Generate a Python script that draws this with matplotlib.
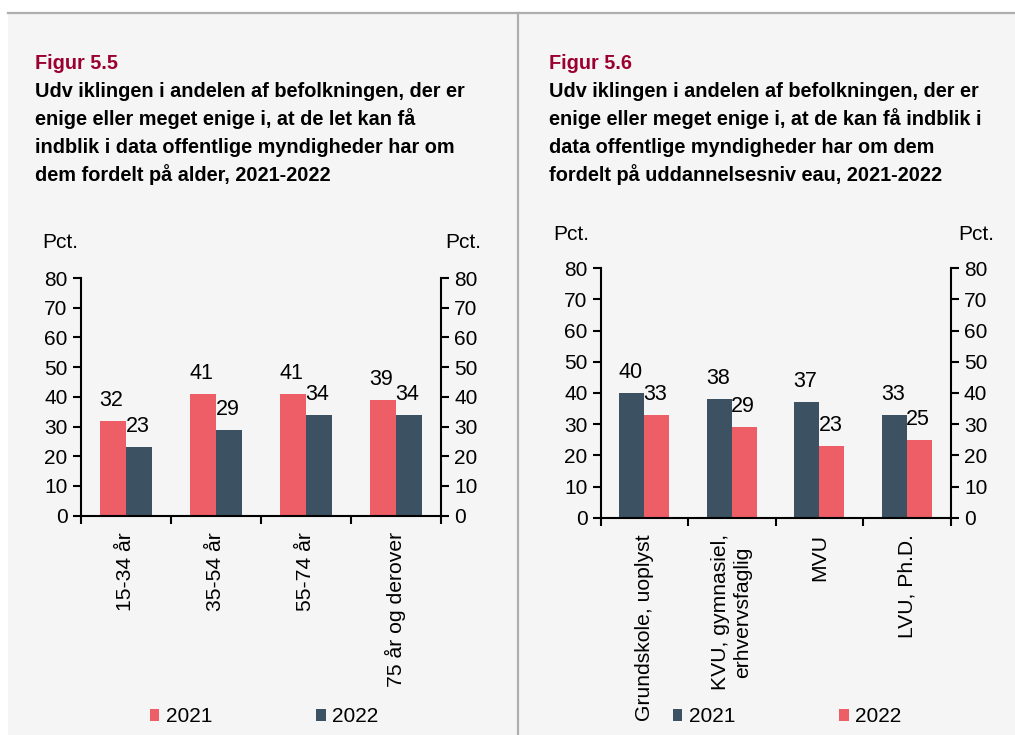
import numpy as np
import matplotlib.pyplot as plt
from matplotlib.patches import Rectangle
from matplotlib.lines import Line2D

plt.rcParams['font.family'] = ['Liberation Sans', 'DejaVu Sans']

# Figur 5.5 - alder
age_groups = ["15-34 år", "35-54 år", "55-74 år", "75 år og derover"]
age_2021 = [32, 41, 41, 39]
age_2022 = [23, 29, 34, 34]

# Figur 5.6 - uddannelsesniveau
edu_groups = ["Grundskole, uoplyst", "KVU, gymnasiel,\nerhvervsfaglig", "MVU", "LVU, Ph.D."]
edu_2021 = [40, 38, 37, 33]
edu_2022 = [33, 29, 23, 25]

yticks = [0, 10, 20, 30, 40, 50, 60, 70, 80]

title_55 = ["Udv iklingen i andelen af befolkningen, der er",
            "enige eller meget enige i, at de let kan få",
            "indblik i data offentlige myndigheder har om",
            "dem fordelt på alder, 2021-2022"]
title_56 = ["Udv iklingen i andelen af befolkningen, der er",
            "enige eller meget enige i, at de kan få indblik i",
            "data offentlige myndigheder har om dem",
            "fordelt på uddannelsesniv eau, 2021-2022"]

RED = "#ee5e67"
DARK = "#3c5263"
BG = "#f5f5f5"
FIGRED = "#9b0030"
LINEGRAY = "#b0adae"

W, H = 1015, 735
fig = plt.figure(figsize=(W / 100, H / 100), dpi=100, facecolor="white")

# panel background and frame lines
fig.patches.append(Rectangle((8 / W, 0), 1 - 8 / W, 1 - 12 / H, transform=fig.transFigure,
                             facecolor=BG, edgecolor="none", zorder=-5))
fig.lines.append(Line2D([8 / W, 1], [1 - 12.5 / H, 1 - 12.5 / H], transform=fig.transFigure,
                        color=LINEGRAY, lw=1.6))
fig.lines.append(Line2D([517.5 / W, 517.5 / W], [0, 1 - 12.5 / H], transform=fig.transFigure,
                        color=LINEGRAY, lw=1.6))


def px_axes(x0, x1, ytop, ybot):
    return fig.add_axes([x0 / W, 1 - ybot / H, (x1 - x0) / W, (ybot - ytop) / H])


def draw_panel(ax, cats, first, second, c1, c2, width):
    x = np.arange(len(cats))
    b1 = ax.bar(x - width / 2, first, width, color=c1, label="2021", zorder=2)
    b2 = ax.bar(x + width / 2, second, width, color=c2, label="2022", zorder=2)
    for bars, vals in ((b1, first), (b2, second)):
        for rect, v in zip(bars, vals):
            ax.annotate(str(v), (rect.get_x() + rect.get_width() / 2, v),
                        xytext=(-1, 10.8), textcoords="offset points",
                        ha="center", va="baseline", fontsize=15.5)
    ax.set_facecolor("none")
    ax.set_xlim(-0.5, len(cats) - 0.5)
    ax.set_ylim(0, 80)
    ax.set_yticks(yticks)
    ax.tick_params(axis="y", which="both", left=True, right=True, labelleft=True,
                   labelright=True, direction="out", length=5.5, width=1.5,
                   labelsize=15, pad=4)
    ax.set_xticks(x)
    ax.set_xticklabels(cats, rotation=90, fontsize=15.2, ha="center", va="top",
                       multialignment="center")
    ax.tick_params(axis="x", which="major", length=0, pad=12)
    ax.set_xticks(np.arange(len(cats) + 1) - 0.5, minor=True)
    ax.tick_params(axis="x", which="minor", length=6, width=1.5, direction="out")
    ax.spines["top"].set_visible(False)
    for s in ("left", "right", "bottom"):
        ax.spines[s].set_linewidth(1.5)
    return b1, b2


# left panel
axl = px_axes(80.7, 441, 278, 515.7)
hl = draw_panel(axl, age_groups, age_2021, age_2022, RED, DARK, 0.29)
axl.legend(handles=hl, ncol=2, frameon=False, fontsize=15, loc="center",
           bbox_to_anchor=(264 / W, 1 - 717 / H), bbox_transform=fig.transFigure,
           handlelength=0.45, handleheight=0.5, handletextpad=0.3, columnspacing=5.0)

# right panel
axr = px_axes(600.7, 950.7, 268.3, 517.7)
hr = draw_panel(axr, edu_groups, edu_2021, edu_2022, DARK, RED, 0.286)
axr.legend(handles=hr, ncol=2, frameon=False, fontsize=15, loc="center",
           bbox_to_anchor=(787 / W, 1 - 717 / H), bbox_transform=fig.transFigure,
           handlelength=0.45, handleheight=0.5, handletextpad=0.3, columnspacing=5.0)

# Pct. labels
for xp, yb in ((42, 248), (445, 248), (553, 240), (958, 240)):
    fig.text(xp / W, 1 - yb / H, "Pct.", fontsize=15, ha="left", va="baseline")

# titles
for x0, num, lines in ((35, "Figur 5.5", title_55), (549, "Figur 5.6", title_56)):
    fig.text(x0 / W, 1 - 69 / H, num, color=FIGRED, fontsize=14.3, fontweight="bold",
             ha="left", va="baseline")
    for i, line in enumerate(lines):
        fig.text(x0 / W, 1 - (97 + 28 * i) / H, line, fontsize=14.3, fontweight="bold",
                 ha="left", va="baseline")

fig.savefig("out.png", dpi=100, facecolor=fig.get_facecolor())
